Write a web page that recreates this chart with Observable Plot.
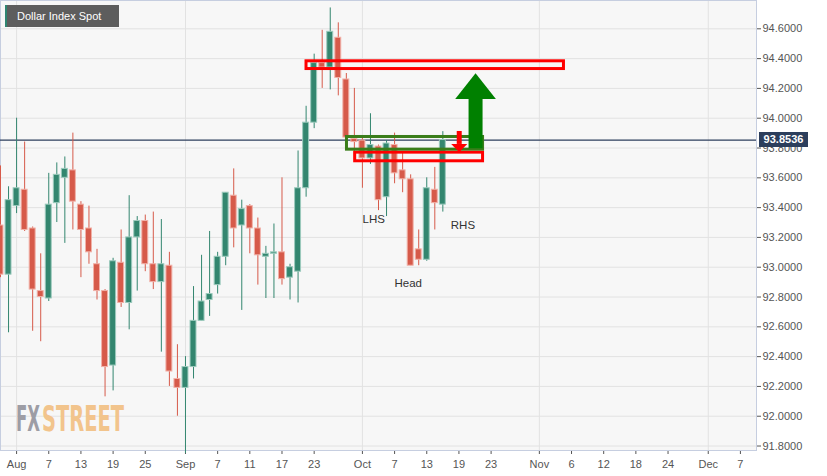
<!DOCTYPE html>
<html><head><meta charset="utf-8">
<script src="https://cdn.jsdelivr.net/npm/d3@7"></script>
<script src="https://cdn.jsdelivr.net/npm/@observablehq/plot@0.6"></script>
<style>
body{margin:0;background:#fff;font-family:"Liberation Sans",Arial,sans-serif;}
#wrap{position:relative;width:827px;height:476px;overflow:hidden;background:#fff}
#wrap svg.plot{position:absolute;left:0;top:0}
.title{position:absolute;left:5px;top:5px;width:114px;height:22px;background:#5d5d5d;border-left:2px solid #2e8571;box-sizing:border-box;color:#fff;font-size:11px;line-height:22px;padding-left:10px;white-space:nowrap}
.price{position:absolute;left:759px;width:49px;height:15px;background:#2c3e5c;color:#fff;font-weight:bold;font-size:11px;line-height:15px;text-align:center}
.logo{position:absolute;left:0;top:0;pointer-events:none}
</style></head><body><div id="wrap"></div>
<script>
// ---- data ----
const dates = ["2020-07-30","2020-07-31","2020-08-03","2020-08-04","2020-08-05","2020-08-06","2020-08-07","2020-08-10","2020-08-11","2020-08-12","2020-08-13","2020-08-14","2020-08-17","2020-08-18","2020-08-19","2020-08-20","2020-08-21","2020-08-24","2020-08-25","2020-08-26","2020-08-27","2020-08-28","2020-08-31","2020-09-01","2020-09-02","2020-09-03","2020-09-04","2020-09-07","2020-09-08","2020-09-09","2020-09-10","2020-09-11","2020-09-14","2020-09-15","2020-09-16","2020-09-17","2020-09-18","2020-09-21","2020-09-22","2020-09-23","2020-09-24","2020-09-25","2020-09-28","2020-09-29","2020-09-30","2020-10-01","2020-10-02","2020-10-05","2020-10-06","2020-10-07","2020-10-08","2020-10-09","2020-10-12","2020-10-13","2020-10-14","2020-10-15"];
const opens  = [93.28,92.95,93.41,93.52,93.26,92.84,92.79,93.43,93.60,93.65,93.42,93.26,93.02,92.84,92.34,93.03,92.76,93.20,93.31,93.02,92.90,93.01,92.25,92.19,92.33,92.64,92.78,92.88,93.07,93.48,93.28,93.41,93.26,93.07,93.09,93.10,92.93,92.97,93.53,93.97,94.37,94.34,94.54,94.26,93.86,93.85,93.73,93.81,93.47,93.82,93.65,93.59,93.12,93.05,93.52,93.42];
const highs  = [93.68,93.54,94.00,93.84,93.27,93.09,93.63,93.70,93.74,93.90,93.44,93.41,93.12,92.85,93.06,93.25,93.48,93.34,93.35,93.37,93.32,93.10,92.48,92.40,92.87,93.08,93.24,93.10,93.50,93.66,93.45,93.42,93.33,93.14,93.29,93.60,93.02,93.78,94.08,94.43,94.59,94.74,94.64,94.30,94.20,93.88,94.03,93.82,93.85,93.90,93.77,93.62,93.25,93.60,93.67,93.91];
const lows   = [92.93,92.56,93.36,93.24,92.57,92.50,92.77,93.30,93.16,93.25,92.93,93.02,92.78,92.13,92.17,92.73,92.58,92.84,92.97,92.85,92.43,92.20,92.00,91.75,92.25,92.64,92.67,92.82,93.01,93.13,92.71,93.09,92.88,92.79,92.79,92.88,92.78,92.76,93.47,93.93,94.20,94.19,94.15,93.86,93.72,93.53,93.69,93.38,93.34,93.56,93.50,93.01,93.01,93.04,93.25,93.37];
const closes = [92.95,93.45,93.53,93.25,92.85,92.80,93.42,93.62,93.66,93.44,93.25,93.10,92.84,92.33,93.04,92.76,93.20,93.31,93.02,92.90,93.02,92.30,92.19,92.33,92.64,92.77,92.82,93.07,93.50,93.26,93.39,93.26,93.08,93.09,93.10,92.92,93.00,93.53,93.97,94.37,94.34,94.58,94.27,93.87,93.84,93.73,93.82,93.45,93.83,93.63,93.59,93.01,93.05,93.53,93.43,93.8536];
const lastPrice = 93.8536;

const tickDates  = ["2020-08-03","2020-08-07","2020-08-13","2020-08-19","2020-08-25","2020-09-01","2020-09-07","2020-09-11","2020-09-17","2020-09-23","2020-10-01","2020-10-07","2020-10-13","2020-10-19","2020-10-23","2020-11-02","2020-11-06","2020-11-12","2020-11-18","2020-11-24","2020-12-01","2020-12-07"];
const tickLabels = ["Aug","7","13","19","25","Sep","7","11","17","23","Oct","7","13","19","23","Nov","6","12","18","24","Dec","7"];
const monthDates = ["2020-08-03","2020-09-01","2020-10-01","2020-11-02","2020-12-01"];
const yTicks = [91.8,92.0,92.2,92.4,92.6,92.8,93.0,93.2,93.4,93.6,93.8,94.0,94.2,94.4,94.6];

// annotation boxes (x in trading-day units from 1 Sep, y in price)
const boxX1 = [15.05, 21.1, 20.08];
const boxX2 = [47.06, 37.0, 37.0];
const boxY1 = [94.330, 93.711, 93.789];
const boxY2 = [94.382, 93.769, 93.874];
const boxColors = ["#ff0000", "#ff0000", "#3a7d1a"];
// arrows: center, shaft half-width, shaft start, head base, tip, head half-width
const arrowX     = [36.13, 34.1];
const arrowShaft = [0.87, 0.31];
const arrowStart = [93.795, 93.911];
const arrowBase  = [94.126, 93.824];
const arrowTip   = [94.298, 93.768];
const arrowHead  = [2.53, 1.0];
const arrowColors = ["#008000", "#ff0000"];
// pattern labels
const labelText = ["LHS", "Head", "RHS"];
const labelX = [23.4, 27.7, 34.5];
const labelY = [93.321, 92.892, 93.281];

// ---- helpers ----
function tIndex(s) {
  const base = Date.UTC(2020, 8, 1);
  const [yy, mm, dd] = s.split("-").map(Number);
  const target = Date.UTC(yy, mm - 1, dd);
  const step = target >= base ? 1 : -1;
  let n = 0, cur = base;
  while (cur !== target) {
    cur += step * 86400000;
    const w = new Date(cur).getUTCDay();
    if (w !== 0 && w !== 6) n += step;
  }
  return n;
}

const candles = dates.map((d, i) => ({x: tIndex(d), o: opens[i], h: highs[i], l: lows[i], c: closes[i]}));
const ups = candles.filter(d => d.c >= d.o);
const downs = candles.filter(d => d.c < d.o);
const minB = 0.005;
const bodyLo = d => Math.abs(d.c - d.o) < minB ? Math.min(d.o, d.c) - minB / 2 : Math.min(d.o, d.c);
const bodyHi = d => Math.abs(d.c - d.o) < minB ? Math.max(d.o, d.c) + minB / 2 : Math.max(d.o, d.c);
const halfW = 0.37;

const tickIdx = tickDates.map(tIndex);
const labelMap = new Map(tickIdx.map((t, i) => [t, tickLabels[i]]));
const monthIdx = monthDates.map(tIndex);

const boxes = boxX1.map((_, i) => ({x1: boxX1[i], x2: boxX2[i], y1: boxY1[i], y2: boxY2[i], color: boxColors[i]}));
const green = "#33866f", red = "#d65a4a";

function arrowMarks(i) {
  const c = arrowX[i];
  const tri = [
    {x: c - arrowHead[i], y1: arrowBase[i], y2: arrowBase[i]},
    {x: c, y1: arrowBase[i], y2: arrowTip[i]},
    {x: c + arrowHead[i], y1: arrowBase[i], y2: arrowBase[i]}
  ];
  return [
    Plot.rect([0], {x1: c - arrowShaft[i], x2: c + arrowShaft[i], y1: arrowStart[i], y2: arrowBase[i], fill: arrowColors[i]}),
    Plot.areaY(tri, {x: "x", y1: "y1", y2: "y2", fill: arrowColors[i]})
  ];
}

const chart = Plot.plot({
  width: 827, height: 476,
  marginLeft: 0, marginRight: 71, marginTop: 0, marginBottom: 26,
  style: {fontFamily: "'Liberation Sans', Arial, sans-serif", fontSize: "11px", color: "#555", background: "transparent"},
  x: {domain: [-23, 71], ticks: tickIdx, tickFormat: i => labelMap.get(i), tickSize: 4, tickPadding: 6, label: null},
  y: {domain: [91.77, 94.79], axis: "right", ticks: yTicks, tickFormat: d => d.toFixed(4), tickSize: 4, tickPadding: 2, label: null},
  marks: [
    Plot.frame({fill: "#f7f7f7", stroke: null}),
    Plot.ruleY(yTicks, {stroke: "#e2e2e2"}),
    Plot.ruleX(monthIdx, {stroke: "#e2e2e2"}),
    Plot.frame({stroke: "#c6cee0"}),
    Plot.ruleY([lastPrice], {stroke: "#2c3e5c", strokeWidth: 1.2}),
    Plot.ruleX(ups, {x: "x", y1: "l", y2: "h", stroke: green}),
    Plot.ruleX(downs, {x: "x", y1: "l", y2: "h", stroke: red}),
    Plot.rect(ups, {x1: d => d.x - halfW, x2: d => d.x + halfW, y1: bodyLo, y2: bodyHi, fill: green, stroke: "#9ccabd", strokeWidth: 1}),
    Plot.rect(downs, {x1: d => d.x - halfW, x2: d => d.x + halfW, y1: bodyLo, y2: bodyHi, fill: red, stroke: "#f1b1a8", strokeWidth: 1}),
    Plot.rect(boxes, {x1: "x1", x2: "x2", y1: "y1", y2: "y2", fill: "none", stroke: d => d.color, strokeWidth: 3}),
    ...arrowMarks(0),
    ...arrowMarks(1),
    Plot.text(labelText.map((t, i) => ({t, x: labelX[i], y: labelY[i]})), {x: "x", y: "y", text: "t", fill: "#333", fontSize: 11.5})
  ],
  color: {type: "identity"}
});
chart.classList.add("plot");
const wrap = document.getElementById("wrap");
wrap.appendChild(chart);

// logo
const ns = "http://www.w3.org/2000/svg";
const logo = document.createElementNS(ns, "svg");
logo.setAttribute("class", "logo");
logo.setAttribute("width", 827); logo.setAttribute("height", 476);
const ff = "font-family=\"'Liberation Sans Narrow','DejaVu Sans Condensed',sans-serif\" font-weight=\"bold\" font-size=\"36\" lengthAdjust=\"spacingAndGlyphs\"";
logo.innerHTML = '<text x="16" y="431" ' + ff + ' textLength="24" fill="#9d9da5">FX</text>' +
                 '<text x="42" y="431" ' + ff + ' textLength="82" fill="#f2c48c">STREET</text>';
wrap.appendChild(logo);

// title box
const title = document.createElement("div");
title.className = "title";
title.textContent = "Dollar Index Spot";
wrap.appendChild(title);

// last price label
const yScale = chart.scale("y");
const py = yScale.apply(lastPrice);
const price = document.createElement("div");
price.className = "price";
price.style.top = (py - 7.5) + "px";
price.textContent = lastPrice.toFixed(4);
wrap.appendChild(price);
</script>
</body></html>
